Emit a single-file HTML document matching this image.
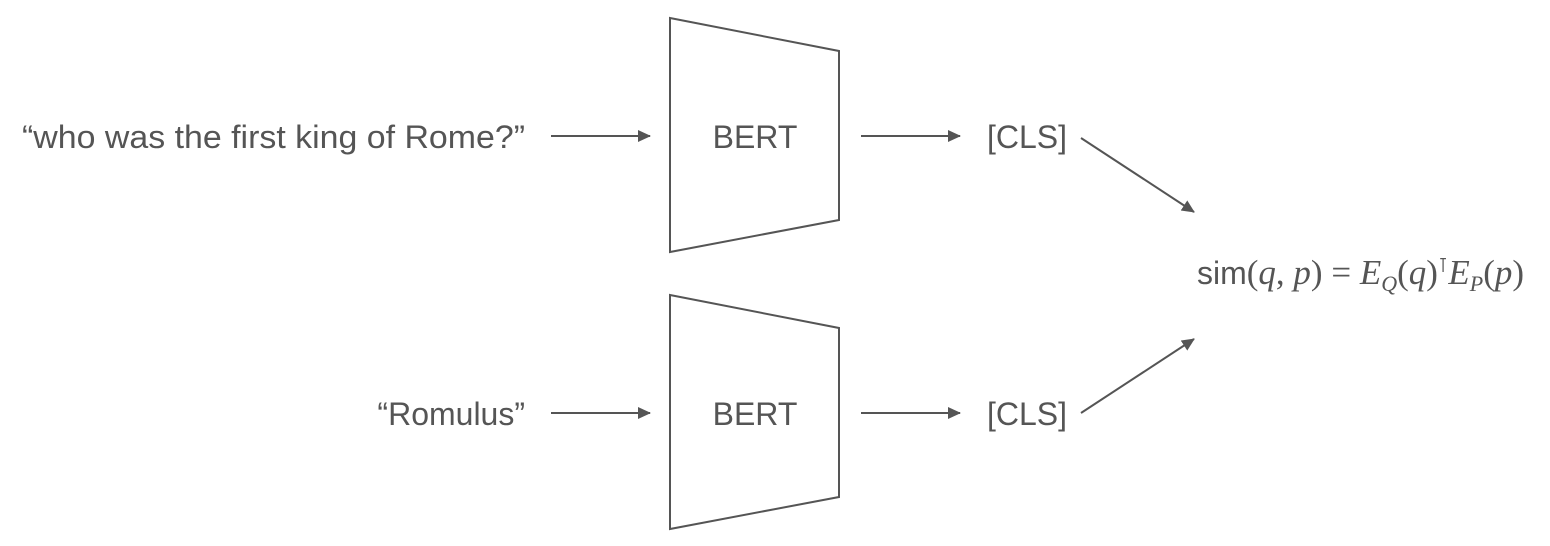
<!DOCTYPE html>
<html><head><meta charset="utf-8"><style>
body{margin:0;background:#fff;}
svg{display:block}
.t{font-family:"Liberation Sans",sans-serif;font-size:32px;fill:#555}
.m{font-family:"Liberation Serif",serif;font-style:italic;fill:#555}
.u{font-family:"Liberation Serif",serif;font-style:normal;fill:#555}
</style></head><body>
<svg width="1550" height="546" viewBox="0 0 1550 546" xmlns="http://www.w3.org/2000/svg">
<defs><marker id="a" markerWidth="14" markerHeight="14" refX="12" refY="6" orient="auto" markerUnits="userSpaceOnUse"><path d="M0,0 L13,6 L0,12z" fill="#555"/></marker></defs>
<g stroke="#555" stroke-width="2" fill="none">
<polygon points="670,18 839,51 839,220 670,252"/>
<polygon points="670,295 839,328 839,497 670,529"/>
<line x1="551" y1="136" x2="650" y2="136" marker-end="url(#a)"/>
<line x1="861" y1="136" x2="960" y2="136" marker-end="url(#a)"/>
<line x1="551" y1="413" x2="650" y2="413" marker-end="url(#a)"/>
<line x1="861" y1="413" x2="960" y2="413" marker-end="url(#a)"/>
<line x1="1081" y1="138" x2="1194" y2="212" marker-end="url(#a)"/>
<line x1="1081" y1="413" x2="1194" y2="339" marker-end="url(#a)"/>
</g>
<text class="t" x="22" y="148" textLength="503" lengthAdjust="spacingAndGlyphs">“who was the first king of Rome?”</text>
<text class="t" x="525" y="425" text-anchor="end">“Romulus”</text>
<text class="t" x="755" y="148" text-anchor="middle">BERT</text>
<text class="t" x="755" y="425" text-anchor="middle">BERT</text>
<text class="t" x="987" y="148">[CLS]</text>
<text class="t" x="987" y="425">[CLS]</text>
<text x="1197" y="284" font-size="35"><tspan class="t" font-size="32">sim</tspan><tspan class="u">(</tspan><tspan class="m">q</tspan><tspan class="u">, </tspan><tspan class="m">p</tspan><tspan class="u">) = </tspan><tspan class="m">E</tspan><tspan class="m" font-size="22" dy="7">Q</tspan><tspan class="u" dy="-7">(</tspan><tspan class="m">q</tspan><tspan class="u">)</tspan><tspan class="u" font-size="20" dy="-12">⊺</tspan><tspan class="m" dy="12">E</tspan><tspan class="m" font-size="22" dy="7">P</tspan><tspan class="u" dy="-7">(</tspan><tspan class="m">p</tspan><tspan class="u">)</tspan></text>
</svg>
</body></html>
